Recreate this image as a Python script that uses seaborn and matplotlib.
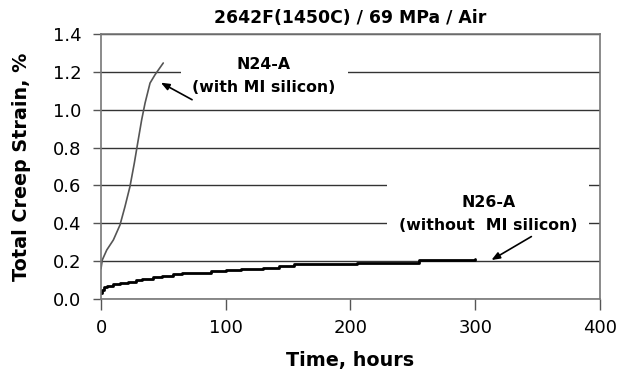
import numpy as np
import pandas as pd
import matplotlib
matplotlib.use("Agg")
import matplotlib.pyplot as plt
import seaborn as sns

# creep data
n24_time = [0, 1.0, 4.6, 9.9, 15.2, 19.2, 23.2, 26.7, 29.4, 32.6, 35.3, 39.3, 43.3, 49.9]
n24_strain = [0.16, 0.206, 0.259, 0.312, 0.391, 0.488, 0.594, 0.718, 0.824, 0.947, 1.035, 1.141, 1.185, 1.247]

n26_time = [0, 0.5, 2, 5, 10, 15, 22, 28, 33, 42, 49, 58, 65, 78, 88, 100, 112, 130,
            143, 155, 205, 255, 300]
n26_strain = [0.03, 0.05, 0.065, 0.07, 0.08, 0.085, 0.092, 0.1, 0.106, 0.115, 0.123, 0.13,
              0.136, 0.14, 0.146, 0.152, 0.158, 0.165, 0.175, 0.184, 0.19, 0.205, 0.21]

x_ticks = [0, 100, 200, 300, 400]
y_ticks = [0.0, 0.2, 0.4, 0.6, 0.8, 1.0, 1.2, 1.4]

n24 = pd.DataFrame({'time': n24_time, 'strain': n24_strain})
n26 = pd.DataFrame({'time': n26_time, 'strain': n26_strain})

sns.set_style("ticks")
plt.rcParams['font.family'] = ['DejaVu Sans']
plt.rcParams['text.color'] = 'black'
plt.rcParams['axes.labelcolor'] = 'black'
plt.rcParams['xtick.labelcolor'] = 'black'
plt.rcParams['ytick.labelcolor'] = 'black'

fig = plt.figure(figsize=(6.22, 3.74), dpi=100)
ax = fig.add_axes([0.1624, 0.2005, 0.8022, 0.7085])

sns.lineplot(data=n24, x='time', y='strain', ax=ax, color='#555555', lw=1.2)
sns.lineplot(data=n26, x='time', y='strain', ax=ax, color='black', lw=2,
             drawstyle='steps-post')

ax.set_xlim(0, 400)
ax.set_ylim(0, 1.4)
ax.set_xticks(x_ticks)
ax.set_yticks(y_ticks)
ax.set_yticklabels([f"{v:.1f}" for v in y_ticks])
ax.yaxis.grid(True, color='#333333', lw=1)
ax.set_axisbelow(True)
for s in ax.spines.values():
    s.set_visible(True)
    s.set_color('#777777')
    s.set_linewidth(1.2)
ax.tick_params(axis='x', length=8, width=1, pad=6.5, labelsize=13, color='#555555')
ax.tick_params(axis='y', length=6, width=1, pad=8, labelsize=13, color='#555555')

ax.set_title("2642F(1450C) / 69 MPa / Air", fontsize=12.4, fontweight='bold', pad=8)
ax.set_xlabel("Time, hours", fontsize=13.8, fontweight='bold', labelpad=10)
ax.set_ylabel("Total Creep Strain, %", fontsize=13.8, fontweight='bold', labelpad=16)

box = dict(boxstyle='square,pad=0.75', facecolor='white', edgecolor='none')
ax.text(130.7, 1.177, "N24-A\n(with MI silicon)", ha='center', va='center',
        fontsize=11.3, fontweight='bold', linespacing=1.7, bbox=box, zorder=3)
ax.text(310.5, 0.45, "N26-A\n(without  MI silicon)", ha='center', va='center',
        fontsize=11.3, fontweight='bold', linespacing=1.7, bbox=box, zorder=3)

arrow = dict(arrowstyle='-|>,head_length=0.5,head_width=0.2', color='black', lw=1.2,
             shrinkA=0, shrinkB=0)
ax.annotate("", xy=(48, 1.143), xytext=(73, 1.053), arrowprops=arrow, zorder=4)
ax.annotate("", xy=(313, 0.206), xytext=(345, 0.33), arrowprops=arrow, zorder=4)

fig.savefig("out.png", dpi=100)
